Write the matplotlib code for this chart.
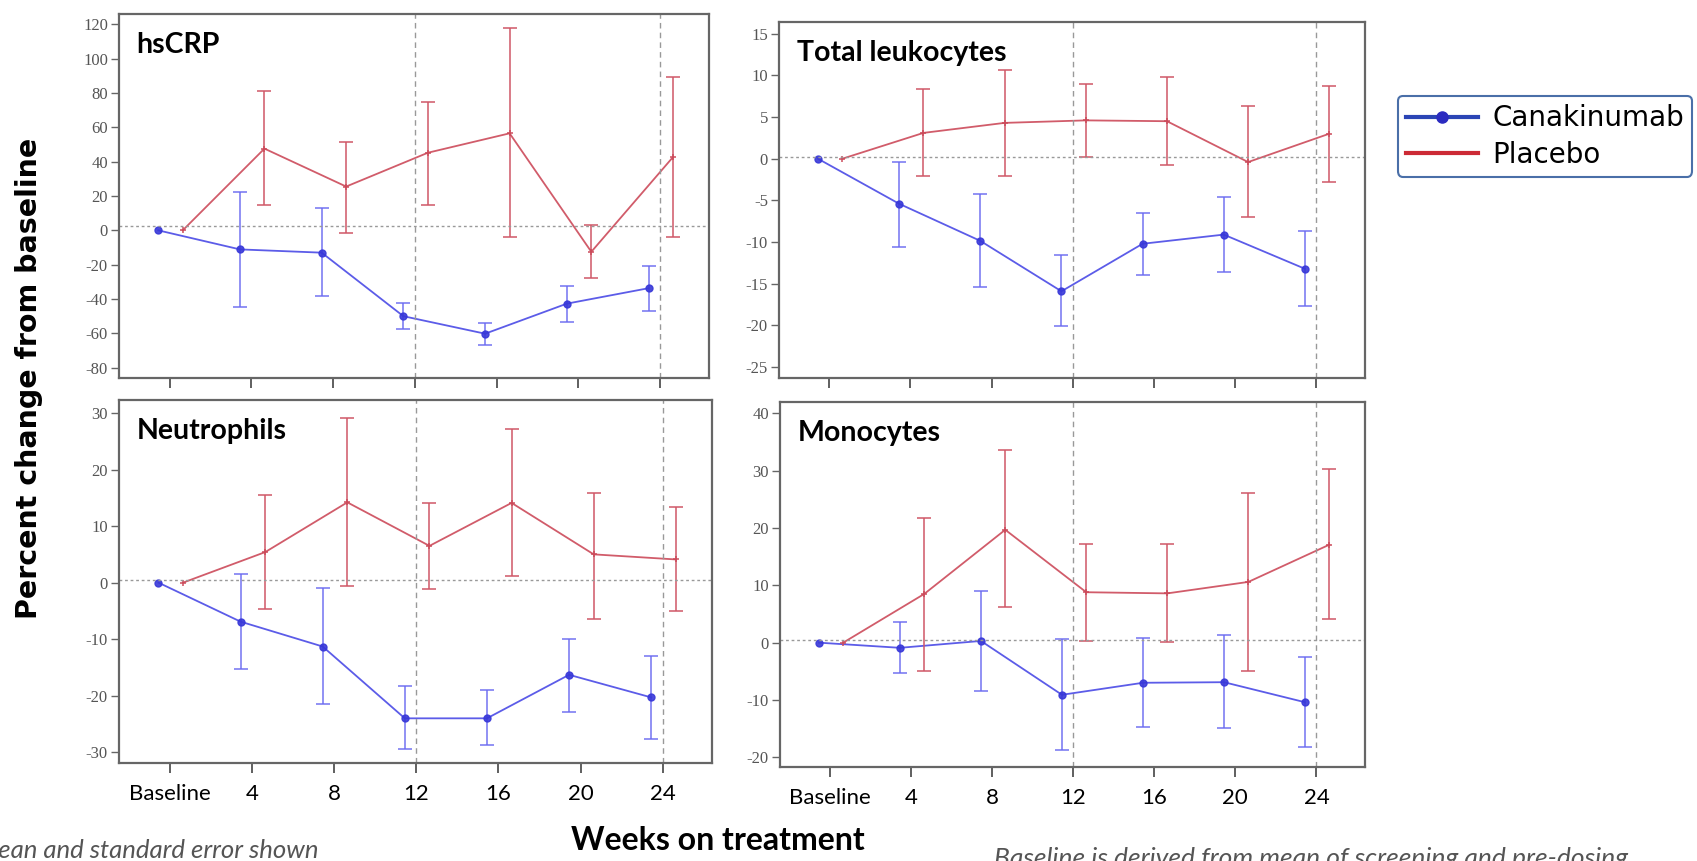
import matplotlib
matplotlib.use("Agg")
import matplotlib.pyplot as plt
import numpy as np

W, H = 1697, 861

weeks = ['Baseline', '4', '8', '12', '16', '20', '24']

panels = ['hsCRP', 'Total leukocytes', 'Neutrophils', 'Monocytes']

# Canakinumab: mean, lower, upper
cana_mean = [
    [0, -11.1, -13.0, -50.0, -60.2, -42.7, -33.7],
    [0, -5.4, -9.85, -15.9, -10.2, -9.1, -13.2],
    [0, -6.9, -11.3, -24.0, -24.0, -16.3, -20.3],
    [0, -0.9, 0.3, -9.1, -7.0, -6.9, -10.4],
]
cana_lo = [
    [0, -44.4, -38.0, -57.5, -67.0, -53.2, -47.2],
    [0, -10.6, -15.4, -20.1, -13.9, -13.6, -17.7],
    [0, -15.2, -21.5, -29.5, -28.8, -22.8, -27.6],
    [0, -5.3, -8.4, -18.8, -14.8, -14.9, -18.2],
]
cana_hi = [
    [0, 22.4, 13.3, -42.3, -54.0, -32.5, -20.5],
    [0, -0.35, -4.25, -11.6, -6.5, -4.6, -8.7],
    [0, 1.5, -0.9, -18.2, -19.0, -9.9, -13.0],
    [0, 3.6, 9.1, 0.7, 0.9, 1.4, -2.5],
]

pla_mean = [
    [0, 47.6, 25.5, 45.2, 56.5, -12.5, 42.7],
    [0, 3.1, 4.3, 4.6, 4.5, -0.4, 3.0],
    [0, 5.4, 14.2, 6.5, 14.1, 5.0, 4.1],
    [0, 8.5, 19.7, 8.8, 8.6, 10.6, 17.1],
]
pla_lo = [
    [0, 15.0, -1.6, 15.0, -3.9, -28.0, -3.9],
    [0, -2.1, -2.1, 0.2, -0.8, -7.0, -2.8],
    [0, -4.6, -0.6, -1.2, 1.1, -6.4, -5.0],
    [0, -5.0, 6.3, 0.3, 0.1, -4.9, 4.1],
]
pla_hi = [
    [0, 81.0, 51.7, 74.7, 118.0, 2.9, 89.5],
    [0, 8.4, 10.7, 9.0, 9.8, 6.3, 8.7],
    [0, 15.5, 29.2, 14.0, 27.2, 15.9, 13.3],
    [0, 21.7, 33.7, 17.2, 17.2, 26.1, 30.3],
]

ylims = [(-86, 126), (-26.3, 16.4), (-31.9, 32.3), (-21.7, 42)]
yticks = [np.arange(-80, 121, 20), np.arange(-25, 16, 5),
          np.arange(-30, 31, 10), np.arange(-20, 41, 10)]
ref_y = [2.5, 0.2, 0.5, 0.5]

# pixel boxes: left, top, right, bottom
boxes = [(119, 14, 709, 378), (779, 22, 1365, 378),
         (119, 400, 712, 763), (780, 402, 1365, 767)]

fig = plt.figure(figsize=(W / 100, H / 100), dpi=100)

blue = '#4a4ae6'
red = '#cc4a5a'
x = np.arange(len(weeks))

for i in range(4):
    l, t, r, b = boxes[i]
    ax = fig.add_axes([l / W, 1 - b / H, (r - l) / W, (b - t) / H])
    cm = np.array(cana_mean[i])
    pm = np.array(pla_mean[i])
    xc = x - 0.14
    xp = x + 0.16
    ax.errorbar(xc[1:], cm[1:], yerr=[cm[1:] - np.array(cana_lo[i][1:]), np.array(cana_hi[i][1:]) - cm[1:]],
                fmt='none', ecolor='#6a6af0', elinewidth=1.3, capsize=5, capthick=1.3, alpha=0.8)
    ax.plot(xc, cm, color=blue, lw=1.3, marker='o', ms=5, mfc='#3838d8', mec='#3838d8', alpha=0.9)
    ax.errorbar(xp[1:], pm[1:], yerr=[pm[1:] - np.array(pla_lo[i][1:]), np.array(pla_hi[i][1:]) - pm[1:]],
                fmt='none', ecolor='#d05868', elinewidth=1.3, capsize=5, capthick=1.3, alpha=0.85)
    ax.plot(xp, pm, color=red, lw=1.3, marker='+', ms=5, mew=1.2, alpha=0.9)

    ax.axhline(ref_y[i], color='#999999', ls=(0, (2, 2)), lw=1)
    ax.axvline(3, color='#999999', ls=(0, (4, 3)), lw=1)
    ax.axvline(6, color='#999999', ls=(0, (4, 3)), lw=1)

    ax.set_xlim(-0.62, 6.6)
    ax.set_ylim(*ylims[i])
    ax.set_yticks(yticks[i])
    ax.set_yticklabels([str(v) for v in yticks[i]], family='Liberation Serif', fontsize=12, color='#555555')
    ax.set_xticks(x)
    if i >= 2:
        ax.set_xticklabels(weeks, family='Lato', fontsize=16, color='black')
    else:
        ax.set_xticklabels([])
    ax.tick_params(axis='x', length=7, width=1.2, color='#444444', pad=8)
    ax.tick_params(axis='y', length=6, width=1, color='#666666', pad=2)
    for s in ax.spines.values():
        s.set_color('#666666')
        s.set_linewidth(1.6)
    ax.text(0.03, 0.95, panels[i], transform=ax.transAxes, ha='left', va='top',
            family='Lato', fontweight='bold', fontsize=20.5)

fig.text(29 / W, 1 - 378 / H, 'Percent change from baseline', rotation=90, ha='center', va='center',
         family='DejaVu Sans', fontweight='bold', fontsize=20.5)
fig.text(718 / W, 1 - 841 / H, 'Weeks on treatment', ha='center', va='center',
         family='Lato', fontweight='bold', fontsize=23)
fig.text(319 / W, 1 - 851 / H, 'Mean and standard error shown', ha='right', va='center',
         family='Lato', style='italic', fontsize=18.5, color='#555555')
fig.text(994 / W, 1 - 859 / H, 'Baseline is derived from mean of screening and pre-dosing', ha='left', va='center',
         family='Lato', style='italic', fontsize=19, color='#555555')

h1, = plt.plot([], [], color='#2b45b5', lw=3, marker='o', ms=8, mfc='#2b2bc0', mec='#2b2bc0')
h2, = plt.plot([], [], color='#cc2a35', lw=3)
leg = fig.legend([h1, h2], ['Canakinumab', 'Placebo'], loc='upper left',
                 bbox_to_anchor=(1384 / W, 1 - 82 / H), prop={'family': 'DejaVu Sans', 'size': 20},
                 handlelength=2.6, fancybox=True, framealpha=1, borderpad=0.3, labelspacing=0.3,
                 handletextpad=0.5)
leg.get_frame().set_edgecolor('#4a6fa8')
leg.get_frame().set_linewidth(1.5)

fig.savefig('out.png', dpi=100)
